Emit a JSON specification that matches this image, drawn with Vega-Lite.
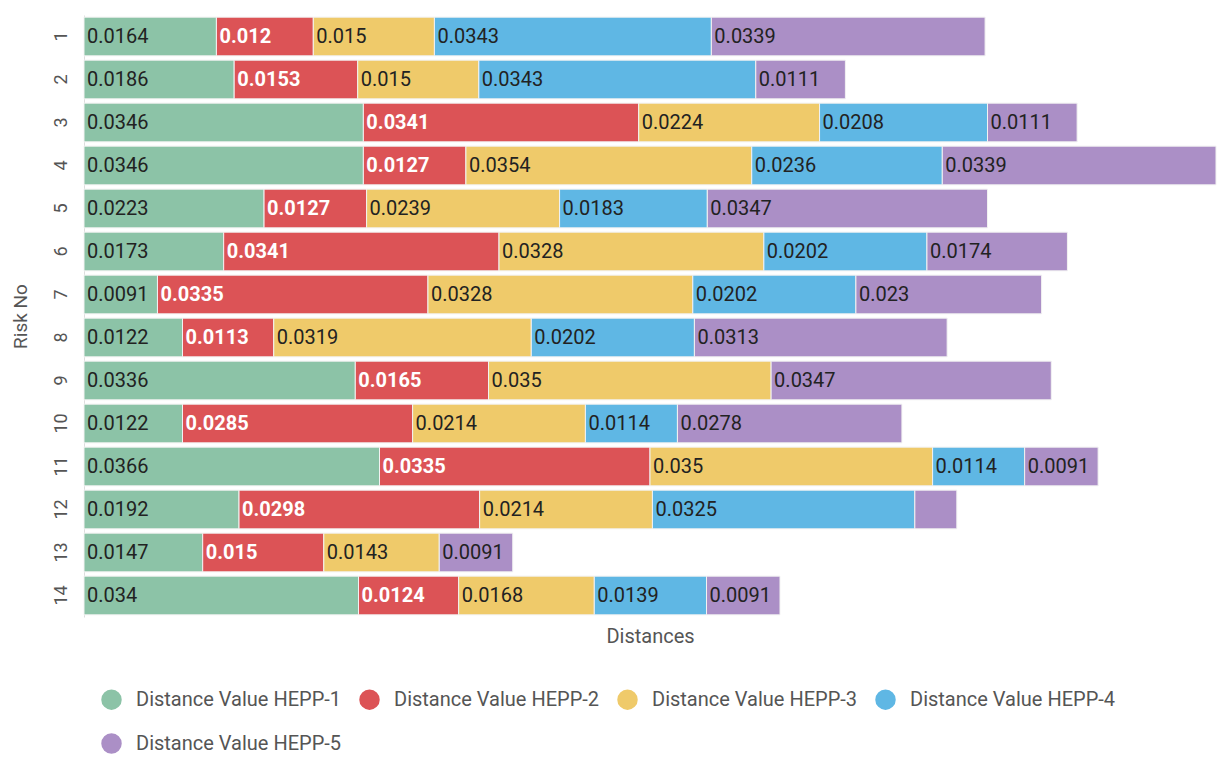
{
  "$schema": "https://vega.github.io/schema/vega-lite/v6.json",
  "width": 1132,
  "height": 602,
  "autosize": {"type": "none"},
  "padding": {"left": 84, "top": 15, "right": 9, "bottom": 150},
  "background": "white",
  "config": {
    "font": "Roboto",
    "view": {"stroke": null}
  },
  "data": {
    "values": [
      {"risk": 1, "series": "Distance Value HEPP-1", "value": 0.0164},
      {"risk": 1, "series": "Distance Value HEPP-2", "value": 0.012},
      {"risk": 1, "series": "Distance Value HEPP-3", "value": 0.015},
      {"risk": 1, "series": "Distance Value HEPP-4", "value": 0.0343},
      {"risk": 1, "series": "Distance Value HEPP-5", "value": 0.0339},
      {"risk": 2, "series": "Distance Value HEPP-1", "value": 0.0186},
      {"risk": 2, "series": "Distance Value HEPP-2", "value": 0.0153},
      {"risk": 2, "series": "Distance Value HEPP-3", "value": 0.015},
      {"risk": 2, "series": "Distance Value HEPP-4", "value": 0.0343},
      {"risk": 2, "series": "Distance Value HEPP-5", "value": 0.0111},
      {"risk": 3, "series": "Distance Value HEPP-1", "value": 0.0346},
      {"risk": 3, "series": "Distance Value HEPP-2", "value": 0.0341},
      {"risk": 3, "series": "Distance Value HEPP-3", "value": 0.0224},
      {"risk": 3, "series": "Distance Value HEPP-4", "value": 0.0208},
      {"risk": 3, "series": "Distance Value HEPP-5", "value": 0.0111},
      {"risk": 4, "series": "Distance Value HEPP-1", "value": 0.0346},
      {"risk": 4, "series": "Distance Value HEPP-2", "value": 0.0127},
      {"risk": 4, "series": "Distance Value HEPP-3", "value": 0.0354},
      {"risk": 4, "series": "Distance Value HEPP-4", "value": 0.0236},
      {"risk": 4, "series": "Distance Value HEPP-5", "value": 0.0339},
      {"risk": 5, "series": "Distance Value HEPP-1", "value": 0.0223},
      {"risk": 5, "series": "Distance Value HEPP-2", "value": 0.0127},
      {"risk": 5, "series": "Distance Value HEPP-3", "value": 0.0239},
      {"risk": 5, "series": "Distance Value HEPP-4", "value": 0.0183},
      {"risk": 5, "series": "Distance Value HEPP-5", "value": 0.0347},
      {"risk": 6, "series": "Distance Value HEPP-1", "value": 0.0173},
      {"risk": 6, "series": "Distance Value HEPP-2", "value": 0.0341},
      {"risk": 6, "series": "Distance Value HEPP-3", "value": 0.0328},
      {"risk": 6, "series": "Distance Value HEPP-4", "value": 0.0202},
      {"risk": 6, "series": "Distance Value HEPP-5", "value": 0.0174},
      {"risk": 7, "series": "Distance Value HEPP-1", "value": 0.0091},
      {"risk": 7, "series": "Distance Value HEPP-2", "value": 0.0335},
      {"risk": 7, "series": "Distance Value HEPP-3", "value": 0.0328},
      {"risk": 7, "series": "Distance Value HEPP-4", "value": 0.0202},
      {"risk": 7, "series": "Distance Value HEPP-5", "value": 0.023},
      {"risk": 8, "series": "Distance Value HEPP-1", "value": 0.0122},
      {"risk": 8, "series": "Distance Value HEPP-2", "value": 0.0113},
      {"risk": 8, "series": "Distance Value HEPP-3", "value": 0.0319},
      {"risk": 8, "series": "Distance Value HEPP-4", "value": 0.0202},
      {"risk": 8, "series": "Distance Value HEPP-5", "value": 0.0313},
      {"risk": 9, "series": "Distance Value HEPP-1", "value": 0.0336},
      {"risk": 9, "series": "Distance Value HEPP-2", "value": 0.0165},
      {"risk": 9, "series": "Distance Value HEPP-3", "value": 0.035},
      {"risk": 9, "series": "Distance Value HEPP-5", "value": 0.0347},
      {"risk": 10, "series": "Distance Value HEPP-1", "value": 0.0122},
      {"risk": 10, "series": "Distance Value HEPP-2", "value": 0.0285},
      {"risk": 10, "series": "Distance Value HEPP-3", "value": 0.0214},
      {"risk": 10, "series": "Distance Value HEPP-4", "value": 0.0114},
      {"risk": 10, "series": "Distance Value HEPP-5", "value": 0.0278},
      {"risk": 11, "series": "Distance Value HEPP-1", "value": 0.0366},
      {"risk": 11, "series": "Distance Value HEPP-2", "value": 0.0335},
      {"risk": 11, "series": "Distance Value HEPP-3", "value": 0.035},
      {"risk": 11, "series": "Distance Value HEPP-4", "value": 0.0114},
      {"risk": 11, "series": "Distance Value HEPP-5", "value": 0.0091},
      {"risk": 12, "series": "Distance Value HEPP-1", "value": 0.0192},
      {"risk": 12, "series": "Distance Value HEPP-2", "value": 0.0298},
      {"risk": 12, "series": "Distance Value HEPP-3", "value": 0.0214},
      {"risk": 12, "series": "Distance Value HEPP-4", "value": 0.0325},
      {"risk": 12, "series": "Distance Value HEPP-5", "value": 0.0052},
      {"risk": 13, "series": "Distance Value HEPP-1", "value": 0.0147},
      {"risk": 13, "series": "Distance Value HEPP-2", "value": 0.015},
      {"risk": 13, "series": "Distance Value HEPP-3", "value": 0.0143},
      {"risk": 13, "series": "Distance Value HEPP-5", "value": 0.0091},
      {"risk": 14, "series": "Distance Value HEPP-1", "value": 0.034},
      {"risk": 14, "series": "Distance Value HEPP-2", "value": 0.0124},
      {"risk": 14, "series": "Distance Value HEPP-3", "value": 0.0168},
      {"risk": 14, "series": "Distance Value HEPP-4", "value": 0.0139},
      {"risk": 14, "series": "Distance Value HEPP-5", "value": 0.0091}
    ]
  },
  "transform": [
    {"stack": "value", "groupby": ["risk"], "sort": [{"field": "series", "order": "ascending"}], "as": ["x0", "x1"]}
  ],
  "encoding": {
    "y": {
      "field": "risk",
      "type": "ordinal",
      "title": "Risk No",
      "scale": {"paddingInner": 0.1, "paddingOuter": 0.05},
      "axis": {
        "labelAngle": -90,
        "labelFontSize": 18,
        "labelColor": "#555555",
        "labelPadding": 14,
        "ticks": false,
        "domain": true,
        "domainColor": "#dddddd",
        "titleFontSize": 19,
        "titleFontWeight": "normal",
        "titleColor": "#555555",
        "titlePadding": 22
      }
    }
  },
  "layer": [
    {
      "mark": {"type": "bar", "stroke": "#f2f2f2", "strokeWidth": 1},
      "encoding": {
        "x": {
          "field": "x0",
          "type": "quantitative",
          "scale": {"domain": [0, 0.1402], "nice": false, "zero": true},
          "title": "Distances",
          "axis": {
            "labels": false,
            "ticks": false,
            "domain": false,
            "grid": false,
            "titleFontSize": 20,
            "titleFontWeight": "normal",
            "titleColor": "#555555",
            "titlePadding": 9
          }
        },
        "x2": {"field": "x1"},
        "color": {
          "field": "series",
          "type": "nominal",
          "title": null,
          "scale": {
            "domain": ["Distance Value HEPP-1", "Distance Value HEPP-2", "Distance Value HEPP-3", "Distance Value HEPP-4", "Distance Value HEPP-5"],
            "range": ["#8cc3a7", "#dc5356", "#efca6a", "#5fb7e4", "#ab8fc6"]
          },
          "legend": {
            "orient": "none",
            "legendX": 17,
            "legendY": 674,
            "direction": "horizontal",
            "columns": 4,
            "symbolType": "circle",
            "symbolSize": 420,
            "symbolStrokeWidth": 0,
            "symbolOpacity": 1,
            "labelFontSize": 20,
            "labelColor": "#555555",
            "labelOffset": 14,
            "labelLimit": 400,
            "columnPadding": 17,
            "rowPadding": 23,
            "padding": 0
          }
        }
      }
    },
    {
      "transform": [
        {"filter": "datum.series !== 'Distance Value HEPP-2' && datum.value > 0.006"}
      ],
      "mark": {"type": "text", "align": "left", "baseline": "middle", "dx": 3, "fontSize": 20, "color": "#222222"},
      "encoding": {
        "x": {"field": "x0", "type": "quantitative"},
        "text": {"field": "value", "type": "quantitative", "format": ""}
      }
    },
    {
      "transform": [
        {"filter": "datum.series === 'Distance Value HEPP-2'"}
      ],
      "mark": {"type": "text", "align": "left", "baseline": "middle", "dx": 3, "fontSize": 20, "fontWeight": "bold", "color": "#ffffff"},
      "encoding": {
        "x": {"field": "x0", "type": "quantitative"},
        "text": {"field": "value", "type": "quantitative", "format": ""}
      }
    }
  ]
}
